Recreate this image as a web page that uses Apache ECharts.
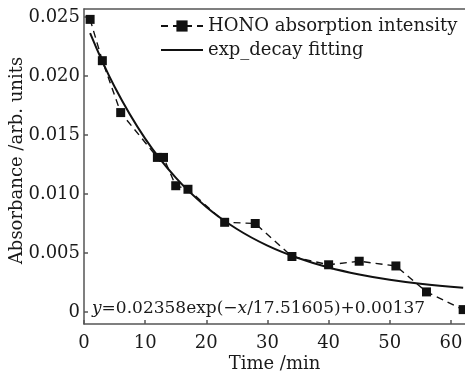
<!DOCTYPE html>
<html>
<head>
<meta charset="utf-8">
<script src="https://cdn.jsdelivr.net/npm/echarts@6/dist/echarts.min.js"></script>
<style>
html,body{margin:0;padding:0;background:#fff;}
#main{width:465px;height:372px;}
</style>
</head>
<body>
<div id="main"></div>
<script>
// Measured HONO absorption intensity
const timeMin = [1, 3, 6, 12, 13, 15, 17, 23, 28, 34, 40, 45, 51, 56, 62];
const absorbance = [0.0248, 0.0213, 0.0169, 0.0131, 0.0131, 0.0107, 0.0104, 0.0076, 0.0075, 0.0047, 0.0040, 0.0043, 0.0039, 0.0017, 0.0002];
// exp_decay fitting curve
const fitTime = [1, 5, 10, 15, 20, 25, 30, 35, 40, 45, 50, 55, 62];
const fitAbs = [0.02364, 0.01909, 0.01469, 0.01138, 0.00890, 0.00703, 0.00562, 0.00457, 0.00377, 0.00318, 0.00273, 0.00239, 0.00205];
const yTicks = [0, 0.005, 0.010, 0.015, 0.020, 0.025];
const seriesNames = ['HONO absorption intensity', 'exp_decay fitting'];

const FONT = 'DejaVu Serif';
const TXT = '#1a1a1a';
const AX = '#555';
const FS = 18;

const chart = echarts.init(document.getElementById('main'), null, {renderer: 'canvas'});
chart.setOption({
  animation: false,
  backgroundColor: '#fff',
  textStyle: {fontFamily: FONT, color: TXT},
  grid: {left: 84, right: 0, top: 9, bottom: 48, containLabel: false, outerBoundsMode: 'none'},
  legend: {
    orient: 'vertical',
    left: 160,
    top: 17,
    padding: 0,
    itemWidth: 42,
    itemHeight: 14,
    itemGap: 6,
    textStyle: {fontFamily: FONT, fontSize: FS, color: TXT},
    data: [
      {name: seriesNames[0]},
      {name: seriesNames[1], itemStyle: {opacity: 0}}
    ]
  },
  title: {
    left: 92,
    top: 300,
    padding: 0,
    text: '{i|y}=0.02358exp(\u2212{i|x}/17.51605)+0.00137',
    textStyle: {
      fontFamily: FONT, fontSize: 17, fontWeight: 'normal', color: TXT,
      rich: {i: {fontFamily: FONT, fontSize: 17, fontStyle: 'italic', color: TXT}}
    }
  },
  xAxis: [{
    type: 'value', min: 0, max: 62.3, interval: 10,
    name: 'Time /min', nameLocation: 'middle', nameGap: 31, nameMoveOverlap: false,
    nameTextStyle: {fontFamily: FONT, fontSize: FS, color: TXT},
    axisLine: {show: true, onZero: false, lineStyle: {color: AX, width: 1.5}},
    axisTick: {show: true, inside: true, length: 4, lineStyle: {color: AX, width: 1.5}},
    axisLabel: {fontFamily: FONT, fontSize: FS, color: TXT, margin: 10, showMaxLabel: false},
    splitLine: {show: false}
  }, {
    type: 'value', position: 'top', min: 0, max: 62.3,
    axisLine: {show: true, onZero: false, lineStyle: {color: AX, width: 1.5}},
    axisTick: {show: false}, axisLabel: {show: false}, splitLine: {show: false}
  }],
  yAxis: {
    type: 'value', min: -0.00102, max: 0.02568,
    name: 'Absorbance /arb. units', nameLocation: 'middle', nameGap: 58, nameRotate: 90, nameMoveOverlap: false,
    nameTextStyle: {fontFamily: FONT, fontSize: FS, color: TXT, padding: [0, 0, 0, 12]},
    axisLine: {show: true, onZero: false, lineStyle: {color: AX, width: 1.5}},
    axisTick: {show: true, inside: true, length: 4, customValues: yTicks, lineStyle: {color: AX, width: 1.5}},
    axisLabel: {
      fontFamily: FONT, fontSize: FS, color: TXT, margin: 4, customValues: yTicks,
      formatter: v => (Math.abs(v) < 1e-9 ? '0' : v.toFixed(3))
    },
    splitLine: {show: false}
  },
  series: [{
    name: seriesNames[0], type: 'line',
    data: timeMin.map((t, i) => [t, absorbance[i]]),
    symbol: 'rect', symbolSize: 9,
    lineStyle: {color: '#111', width: 1.4, type: [7, 5]},
    itemStyle: {color: '#111'},
    z: 3
  }, {
    name: seriesNames[1], type: 'line',
    data: fitTime.map((t, i) => [t, fitAbs[i]]),
    smooth: 0.4, symbol: 'none',
    lineStyle: {color: '#111', width: 2},
    itemStyle: {color: '#111'},
    z: 2
  }]
});
</script>
</body>
</html>
